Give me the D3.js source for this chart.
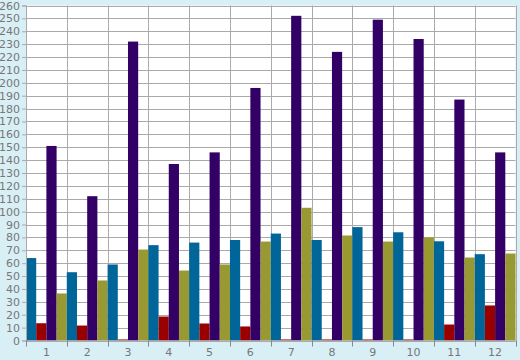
<!DOCTYPE html>
<html>
<head>
<meta charset="utf-8">
<script src="https://cdn.jsdelivr.net/npm/d3@7"></script>
<style>
  html, body { margin: 0; padding: 0; background: #d9eff6; }
  text { font-family: "DejaVu Sans", sans-serif; font-size: 11px; fill: #777; }
</style>
</head>
<body>
<div id="chart"></div>
<script>
const WIDTH = 520;
const HEIGHT = 360;
const LEFT = 26, RIGHT = 515.5, TOP = 5.5, BOTTOM = 340.5;

const categories = ['1', '2', '3', '4', '5', '6', '7', '8', '9', '10', '11', '12'];
const series = ['blue', 'red', 'purple', 'olive'];
const blueValues = [64, 53, 59, 74, 76, 78, 83, 78, 88, 84, 77, 67];
const redValues = [13.4, 11.6, 0.8, 18.6, 13.2, 10.9, 0.8, 0.8, 0.8, 0.8, 12.4, 27.2];
const purpleValues = [151, 112, 232, 137, 146, 196, 252, 224, 249, 234, 187, 146];
const oliveValues = [36.5, 46.6, 70.6, 54.3, 59, 76.8, 103, 81.5, 76.8, 80, 64.4, 67.5];
const yTicks = d3.range(0, 261, 10);

const colors = { blue: '#006699', red: '#990000', purple: '#330066', olive: '#999933' };
const valuesBySeries = { blue: blueValues, red: redValues, purple: purpleValues, olive: oliveValues };

const svg = d3.select('#chart')
    .append('svg')
    .attr('width', WIDTH)
    .attr('height', HEIGHT);

const xScale = d3.scaleBand()
    .domain(categories)
    .range([LEFT, RIGHT])
    .padding(0);

const xInner = d3.scaleBand()
    .domain(series)
    .range([0, xScale.bandwidth()])
    .padding(0);

const yScale = d3.scaleLinear()
    .domain([0, 260])
    .range([BOTTOM, TOP]);

// plot background
svg.append('rect')
    .attr('x', LEFT)
    .attr('y', TOP)
    .attr('width', RIGHT - LEFT)
    .attr('height', BOTTOM - TOP)
    .attr('fill', '#fff');

// horizontal grid
svg.append('g')
    .selectAll('line')
    .data(yTicks)
    .enter()
    .append('line')
    .attr('x1', LEFT)
    .attr('x2', RIGHT)
    .attr('y1', d => Math.round(yScale(d)) + 0.5)
    .attr('y2', d => Math.round(yScale(d)) + 0.5)
    .attr('stroke', '#aaa');

// vertical grid at category boundaries
const bounds = categories.map(c => xScale(c)).concat([RIGHT]);
svg.append('g')
    .selectAll('line')
    .data(bounds)
    .enter()
    .append('line')
    .attr('x1', d => Math.round(d) + 0.5)
    .attr('x2', d => Math.round(d) + 0.5)
    .attr('y1', TOP)
    .attr('y2', BOTTOM)
    .attr('stroke', '#aaa');

// bars
const groups = svg.append('g')
    .selectAll('g')
    .data(categories)
    .enter()
    .append('g')
    .attr('transform', d => `translate(${xScale(d)},0)`);

groups.selectAll('rect')
    .data((c, i) => series.map(s => ({ s, v: valuesBySeries[s][i] })))
    .enter()
    .append('rect')
    .attr('x', d => xInner(d.s))
    .attr('width', xInner.bandwidth())
    .attr('y', d => yScale(d.v))
    .attr('height', d => yScale(0) - yScale(d.v))
    .attr('fill', d => colors[d.s]);

// y axis
const yAxis = svg.append('g')
    .attr('transform', `translate(${LEFT},0)`)
    .call(d3.axisLeft(yScale).tickValues(yTicks).tickSize(4).tickPadding(2));
yAxis.select('.domain').attr('stroke', '#aaa');
yAxis.selectAll('.tick line').attr('stroke', '#aaa');
yAxis.selectAll('.tick text').style('font-size', '11px').attr('fill', '#777');

// x axis
const xAxis = svg.append('g')
    .attr('transform', `translate(0,${BOTTOM})`)
    .call(d3.axisBottom(xScale).tickSize(0).tickPadding(8));
xAxis.select('.domain').attr('stroke', '#aaa');
xAxis.selectAll('.tick text').style('font-size', '11px').attr('fill', '#777');

svg.append('g')
    .selectAll('line')
    .data(bounds)
    .enter()
    .append('line')
    .attr('x1', d => Math.round(d) + 0.5)
    .attr('x2', d => Math.round(d) + 0.5)
    .attr('y1', BOTTOM)
    .attr('y2', BOTTOM + 6)
    .attr('stroke', '#888');
</script>
</body>
</html>
